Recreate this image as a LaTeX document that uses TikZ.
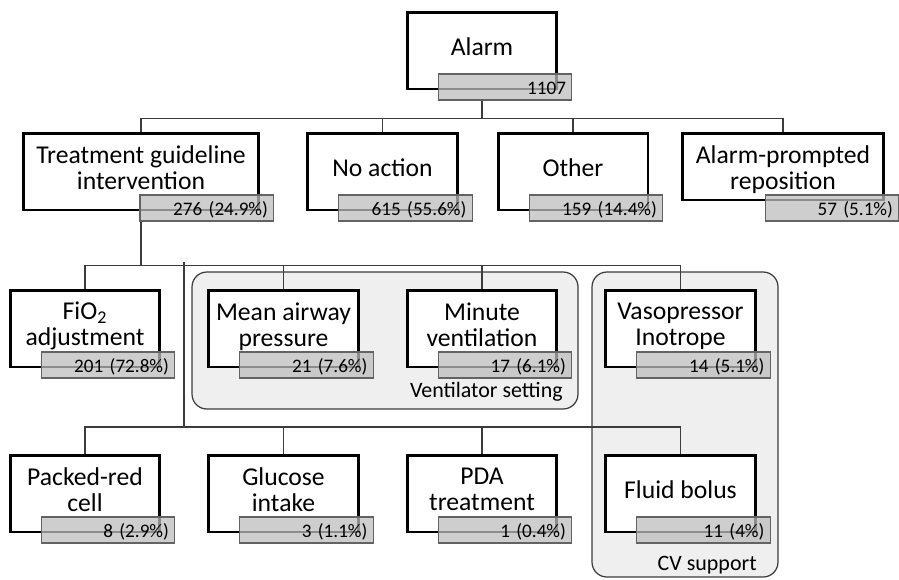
\documentclass[tikz,border=0pt]{standalone}
\usepackage{fontspec}
\setmainfont{Carlito}
\usepackage{xcolor}
\usetikzlibrary{positioning, calc}
\definecolor{line_gray}{RGB}{60, 60, 60}
\definecolor{count_gray}{RGB}{189, 189, 189}
\definecolor{group_gray}{RGB}{239, 239, 239}

\begin{document}
\begin{tikzpicture}[x=0.02cm, y=0.02cm,
        bx/.style={draw, line width=1.7pt, fill=white,
                   minimum width=3cm, minimum height=1.54cm, inner sep=0pt},
        lbl/.style={align=center, inner sep=0pt,
                    font=\fontsize{14.6}{14.8}\selectfont},
        ct/.style={draw=line_gray!80, line width=0.6pt, fill=count_gray,
                   fill opacity=0.74, text opacity=1, anchor=north east,
                   text width=2.44cm, inner xsep=3.4pt, inner ysep=0pt,
                   minimum height=0.52cm, align=right,
                   text height=0.85em, text depth=0pt,
                   font=\fontsize{10.9}{13}\selectfont},
        grp/.style={draw=line_gray, fill=group_gray, line width=0.7pt,
                    rounded corners=8.5pt},
        glbl/.style={anchor=base east, inner sep=0pt,
                     font=\fontsize{12.5}{14}\selectfont},
        ln/.style={draw=line_gray, line width=0.7pt}]
        \useasboundingbox (0,0) rectangle (899,-579);
        % groups
        \draw[grp] (192,-272) rectangle (578,-409);
        \draw[grp] (592,-272) rectangle (778,-577);
        \node[glbl] (vent-lbl) at (563,-397) {Ventilator setting};
        \node[glbl] (cv-lbl) at (757,-570) {CV support};
        % top
        \node[bx] (alarm) at (482,-50.5) {};
          \node[lbl] at ([shift={(0,-36)}]alarm.north) {Alarm};
          \node[ct] (alarm-c) at ([shift={(14,17)}]alarm.south east) {1107};
        % second row
        \node[bx, minimum width=4.72cm] (tgi) at (141,-171.5) {};
          \node[lbl] at ([shift={(0,-36)}]tgi.north) {Treatment guideline\\intervention};
          \node[ct] (tgi-c) at ([shift={(14,17)}]tgi.south east) {276 (24.9\%)};
        \node[bx] (noact) at (382.5,-171.5) {};
          \node[lbl] at ([shift={(0,-36)}]noact.north) {No action};
          \node[ct] (noact-c) at ([shift={(14,17)}]noact.south east) {615 (55.6\%)};
        \node[bx] (other) at (573,-171.5) {};
          \node[lbl] at ([shift={(0,-36)}]other.north) {Other};
          \node[ct] (other-c) at ([shift={(14,17)}]other.south east) {159 (14.4\%)};
        \node[bx, minimum width=4.04cm, minimum height=1.34cm] (prompt) at (783,-166.5) {};
          \node[lbl] at ([shift={(0,-38.5)}]prompt.north) {Alarm-prompted\\reposition};
          \node[ct] (prompt-c) at ([shift={(14,7)}]prompt.south east) {57 (5.1\%)};
        % third row
        \node[bx] (fio2) at (85,-328.5) {};
          \node[lbl] at ([shift={(0,-37.5)}]fio2.north) {FiO\textsubscript{2}\\adjustment};
          \node[ct] (fio2-c) at ([shift={(14,17)}]fio2.south east) {201 (72.8\%)};
        \node[bx] (map) at (283.5,-328.5) {};
          \node[lbl] at ([shift={(0,-38.5)}]map.north) {Mean airway\\pressure};
          \node[ct] (map-c) at ([shift={(14,17)}]map.south east) {21 (7.6\%)};
        \node[bx] (mv) at (482,-328.5) {};
          \node[lbl] at ([shift={(0,-36)}]mv.north) {Minute\\ventilation};
          \node[ct] (mv-c) at ([shift={(14,17)}]mv.south east) {17 (6.1\%)};
        \node[bx] (vaso) at (680.5,-328.5) {};
          \node[lbl] at ([shift={(0,-38)}]vaso.north) {Vasopressor\\Inotrope};
          \node[ct] (vaso-c) at ([shift={(14,17)}]vaso.south east) {14 (5.1\%)};
        % fourth row
        \node[bx] (prc) at (85,-493.5) {};
          \node[lbl] at ([shift={(0,-36)}]prc.north) {Packed-red\\cell};
          \node[ct] (prc-c) at ([shift={(14,17)}]prc.south east) {8 (2.9\%)};
        \node[bx] (gluc) at (283.5,-493.5) {};
          \node[lbl] at ([shift={(0,-36)}]gluc.north) {Glucose\\intake};
          \node[ct] (gluc-c) at ([shift={(14,17)}]gluc.south east) {3 (1.1\%)};
        \node[bx] (pda) at (482,-493.5) {};
          \node[lbl] at ([shift={(0,-36)}]pda.north) {PDA\\treatment};
          \node[ct] (pda-c) at ([shift={(14,17)}]pda.south east) {1 (0.4\%)};
        \node[bx] (fluid) at (680.5,-493.5) {};
          \node[lbl] at ([shift={(0,-36)}]fluid.north) {Fluid bolus};
          \node[ct] (fluid-c) at ([shift={(14,17)}]fluid.south east) {11 (4\%)};
        % connectors
        \foreach \n in {tgi, noact, other, prompt}
          \draw[ln] (alarm-c.south -| alarm.south) -- ++(0,-18) -| (\n.north);
        \foreach \n in {fio2, map, mv, vaso}
          \draw[ln] (tgi-c.south -| tgi.south) -- ++(0,-44) -| (\n.north);
        \coordinate (split) at (184,-262);
        \foreach \n in {prc, gluc, pda, fluid}
          \draw[ln] (split) -- ++(0,-165) -| (\n.north);
      \end{tikzpicture}
\end{document}
